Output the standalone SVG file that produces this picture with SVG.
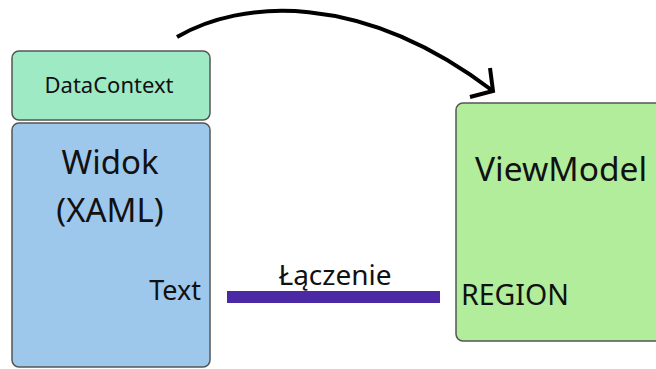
<svg xmlns="http://www.w3.org/2000/svg" width="656" height="369" viewBox="0 0 656 369">
<style>
.box{stroke:#555;stroke-width:1.5}
.t{font-family:"Noto Sans","Open Sans",sans-serif;fill:#111}
</style>
<rect width="656" height="369" fill="#fff"/>
<g id="datacontext">
<rect class="box" x="12" y="51" width="198" height="69" rx="7" fill="#9EEAC5"/>
<text class="t" x="109" y="93" font-size="22" text-anchor="middle">DataContext</text>
</g>
<g id="widok">
<rect class="box" x="12" y="123" width="198" height="244" rx="7" fill="#9DC8EC"/>
<text class="t" x="110" y="174" font-size="33" text-anchor="middle">Widok</text>
<text class="t" x="110" y="222" font-size="33" text-anchor="middle">(XAML)</text>
<text class="t" x="201" y="300" font-size="27" text-anchor="end">Text</text>
</g>
<g id="viewmodel">
<rect class="box" x="456" y="103" width="215" height="238" rx="7" fill="#B1ED9B"/>
<text class="t" x="475" y="181" font-size="33.5">ViewModel</text>
<text class="t" x="461" y="305" font-size="28.5">REGION</text>
</g>
<g id="connectors">
<rect x="227" y="291" width="213" height="12" fill="#4B28A4"/>
<text class="t" x="335" y="285" font-size="28" text-anchor="middle">Łączenie</text>
<path d="M177,37 C240,0 360,-10 493,91" fill="none" stroke="#000" stroke-width="4"/>
<polyline points="470,97 493,91 490,68" fill="none" stroke="#000" stroke-width="4"/>
</g>
</svg>
